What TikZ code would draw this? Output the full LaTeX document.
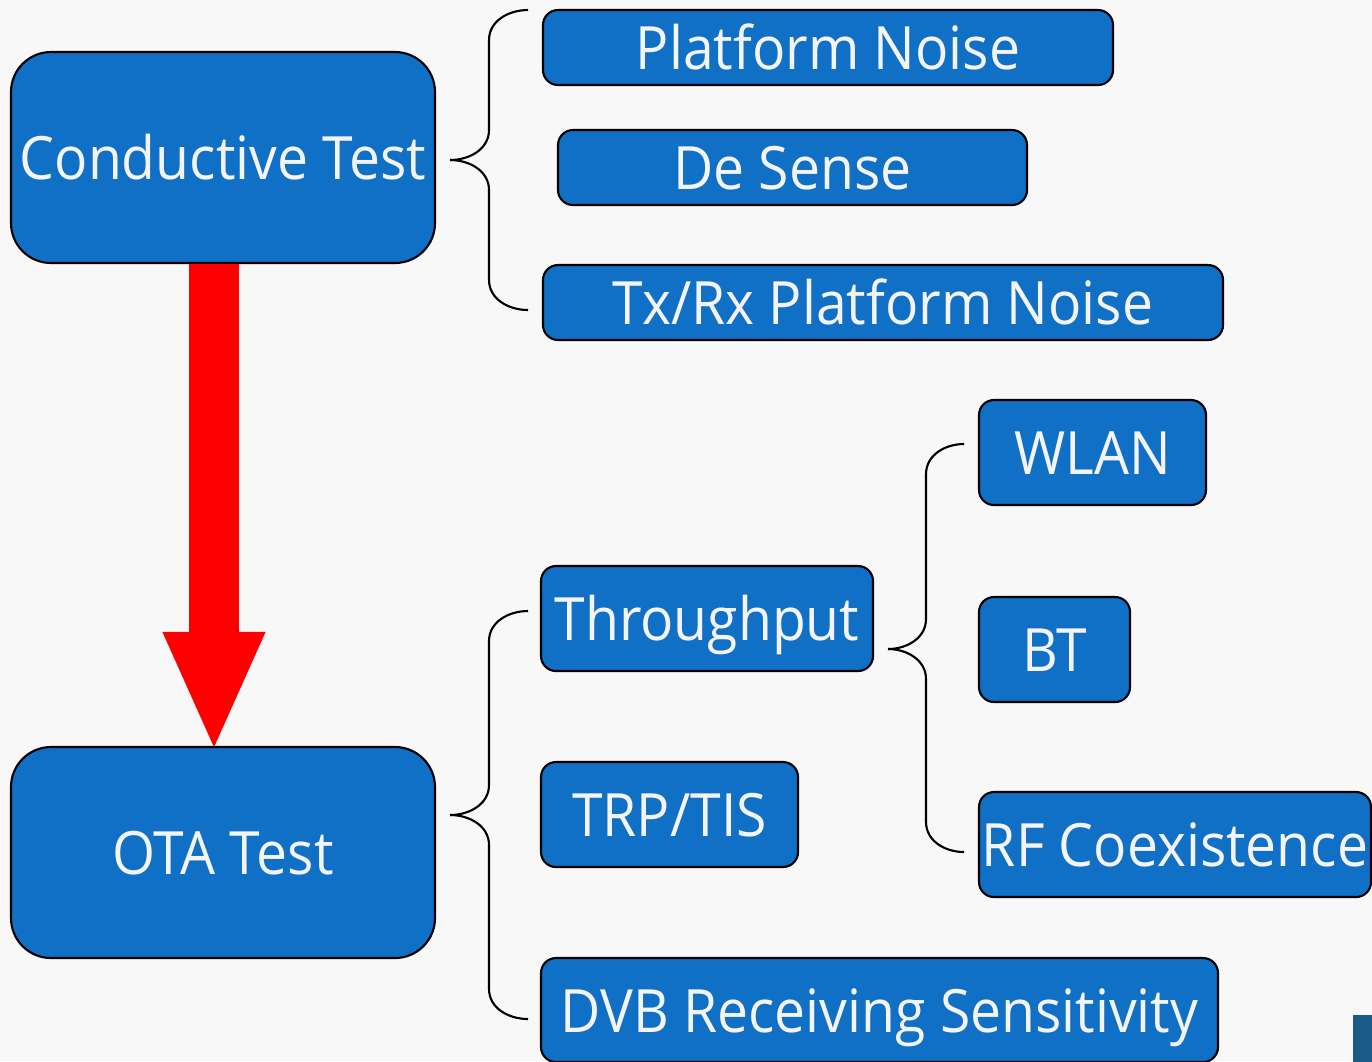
\documentclass[tikz,border=0pt]{standalone}
\usepackage{fontspec}
\setmainfont{Open Sans}[FakeStretch=0.925]
\usetikzlibrary{arrows.meta,calc}
\definecolor{box-blue}{HTML}{1070C5}
\definecolor{paper}{HTML}{F8F8F8}
\definecolor{label-white}{HTML}{F4F4F4}
\definecolor{corner-blue}{HTML}{1B5B8A}

\tikzset{
  box/.style={rectangle, draw=black, line width=0.6pt, fill=box-blue,
    text=label-white, rounded corners=0.15cm, inner sep=0pt,
    font=\fontsize{17}{20}\selectfont, text height=0.44cm, text depth=0pt},
  bigbox/.style={box, rounded corners=0.4cm},
  curly/.style={draw=black, line width=0.6pt}
}

\begin{document}
\begin{tikzpicture}
  \fill[paper] (0,0) rectangle (13.72,-10.61);
  \useasboundingbox (0,0) rectangle (13.72,-10.61);

  % left column
  \node[bigbox, minimum width=4.24cm, minimum height=2.11cm] (cond) at (2.23,-1.575) {Conductive Test};
  \node[bigbox, minimum width=4.24cm, minimum height=2.11cm] (ota) at (2.23,-8.525) {OTA Test};
  \draw[-{Triangle[width=0.93cm,length=1.2cm]}, line width=0.5cm, red]
    ([xshift=-0.09cm]cond.south) -- ([xshift=-0.09cm,yshift=-0.06cm]ota.north);

  % conductive items
  \node[box, minimum width=5.70cm, minimum height=0.75cm] (pn) at (8.28,-0.475) {Platform Noise};
  \node[box, minimum width=4.69cm, minimum height=0.75cm] (ds) at (7.925,-1.675) {De Sense};
  \node[box, minimum width=6.80cm, minimum height=0.75cm] (txrx) at (8.83,-3.025) {Tx/Rx Platform Noise};

  % ota items
  \node[box, minimum width=3.32cm, minimum height=1.05cm] (thr) at (7.07,-6.185) {Throughput};
  \node[box, minimum width=2.57cm, minimum height=1.05cm] (trp) at (6.695,-8.145) {TRP/TIS};
  \node[box, minimum width=6.77cm, minimum height=1.04cm] (dvb) at (8.795,-10.10) {DVB Receiving Sensitivity};

  % throughput items
  \node[box, minimum width=2.27cm, minimum height=1.05cm] (wlan) at (10.925,-4.525) {WLAN};
  \node[box, minimum width=1.51cm, minimum height=1.05cm] (bt) at (10.545,-6.495) {BT};
  \node[box, minimum width=3.92cm, minimum height=1.05cm] (rf) at (11.75,-8.445) {RF Coexistence};

  % braces
  \coordinate (ctip) at (4.50,-1.60);
  \draw[curly] (ctip) to[out=0,in=-90] ++(0.39,0.30) -- (4.89,-0.40) to[out=90,in=180] ++(0.39,0.30);
  \draw[curly] (ctip) to[out=0,in=90] ++(0.39,-0.30) -- (4.89,-2.80) to[out=-90,in=180] ++(0.39,-0.30);

  \coordinate (otip) at (4.50,-8.15);
  \draw[curly] (otip) to[out=0,in=-90] ++(0.39,0.30) -- (4.89,-6.41) to[out=90,in=180] ++(0.39,0.30);
  \draw[curly] (otip) to[out=0,in=90] ++(0.39,-0.30) -- (4.89,-9.89) to[out=-90,in=180] ++(0.39,-0.30);

  \coordinate (ttip) at (8.88,-6.49);
  \draw[curly] (ttip) to[out=0,in=-90] ++(0.38,0.30) -- (9.26,-4.74) to[out=90,in=180] ++(0.38,0.30);
  \draw[curly] (ttip) to[out=0,in=90] ++(0.38,-0.30) -- (9.26,-8.22) to[out=-90,in=180] ++(0.38,-0.30);

  % corner mark
  \fill[corner-blue] (13.53,-10.15) rectangle (13.80,-10.70);
\end{tikzpicture}
\end{document}
